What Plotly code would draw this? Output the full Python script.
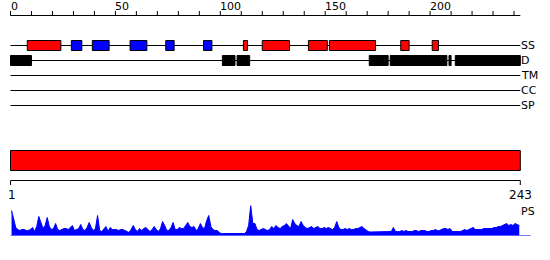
import plotly.graph_objects as go

# ---------------- data ----------------
seq_len = 243
ruler_labels = [0, 50, 100, 150, 200]

# secondary structure elements (start, end, type)  H = helix (red), E = strand (blue)
ss_start = [8, 29, 39, 57, 74, 92, 111, 120, 142, 152, 186, 201]
ss_end   = [24, 34, 47, 65, 78, 96, 113, 133, 151, 174, 190, 204]
ss_type  = ["H", "E", "E", "E", "E", "E", "H", "H", "H", "H", "H", "H"]

# disordered regions
d_start = [0, 101, 108, 171, 181, 209, 212]
d_end   = [10, 107, 114, 180, 208, 210, 243]

track_names = ["SS", "D", "TM", "CC", "SP"]

# per-residue PS score (residues 1..243)
ps_score = [
    25, 15, 8, 6, 5, 6, 6, 5, 5, 6,          # 1-10
    8, 4, 9, 19, 12, 7, 10, 18, 9, 6,        # 11-20
    7, 12, 6, 5, 6, 7, 7, 6, 8, 10,          # 21-30
    5, 6, 7, 11, 6, 5, 8, 13, 8, 5,          # 31-40
    7, 20, 5, 4, 6, 9, 4, 8, 6, 6,           # 41-50
    6, 5, 6, 6, 5, 4, 3, 6, 10, 6,           # 51-60
    4, 7, 5, 7, 8, 6, 4, 6, 9, 6,            # 61-70
    4, 7, 14, 10, 5, 5, 8, 13, 6, 6,         # 71-80
    8, 7, 7, 10, 13, 9, 8, 9, 5, 7,          # 81-90
    12, 8, 7, 15, 20, 9, 6, 5, 5, 3,         # 91-100
    2, 2, 2, 2, 1.5, 2, 2, 1.5, 2, 2,        # 101-110
    2, 2, 4, 10, 30, 12, 12, 6, 5, 6,        # 111-120
    7, 6, 5, 6, 9, 7, 10, 8, 7, 9,           # 121-130
    10, 12, 9, 7, 16, 12, 10, 9, 14, 10,     # 131-140
    8, 7, 8, 9, 7, 8, 9, 7, 7, 8,            # 141-150
    7, 8, 7, 6, 8, 14, 8, 6, 6, 7,           # 151-160
    6, 7, 6, 6, 7, 7, 8, 9, 7, 5,            # 161-170
    4, 3.5, 3.5, 4, 3.5, 3.5, 4, 3.5, 3.5, 4, # 171-180
    3.5, 4, 8, 4, 4, 4, 5, 4, 5, 4,          # 181-190
    4, 4, 5, 5, 4, 5, 5, 5, 4, 4,            # 191-200
    5, 5, 6, 5, 5, 6, 7, 7, 6, 7,            # 201-210
    4, 4, 4, 4, 4, 5, 6, 5, 6, 7,            # 211-220
    8, 6, 6, 6, 6, 7, 7, 7, 7, 7,            # 221-230
    8, 8, 9, 9, 10, 11, 12, 10, 11, 10,      # 231-240
    12, 11, 10,                               # 241-243
]
assert len(ps_score) == seq_len

# ---------------- layout constants (pixel rows) ----------------
W, H = 550, 260
X0_PX, PX_PER_RES = 10.5, 2.098
RULER_Y = 15.5
TRACK_Y = {"SS": 45.5, "D": 60.5, "TM": 75.5, "CC": 90.5, "SP": 105.5}
BOX_HALF = 5.0
BAR_TOP, BAR_BOT = 150.5, 170.5
RULER2_Y = 180.5
PS_BASE_PX = 235.5
PS_MAX_PX = 30.0
FONT = dict(family="DejaVu Sans", size=11, color="black")

colors = {"H": "#ff0000", "E": "#0000ff"}

fig = go.Figure()
shapes = []
annotations = []

# top ruler (as a trace on the primary axes)
rx, ry = [0, seq_len, None], [RULER_Y, RULER_Y, None]
for t in range(0, seq_len, 10):
    rx += [t, t, None]
    ry += [RULER_Y - 4.5, RULER_Y, None]
fig.add_trace(go.Scatter(x=rx, y=ry, mode="lines", xaxis="x", yaxis="y",
                         line=dict(color="black", width=1), hoverinfo="skip"))
for lab in ruler_labels:
    annotations.append(dict(x=lab, y=6, xref="x", yref="y", text=str(lab),
                            showarrow=False, xanchor="left", yanchor="middle",
                            xshift=-2, font=FONT))

# track lines and labels
for name in track_names:
    y = TRACK_Y[name]
    shapes.append(dict(type="line", xref="x", yref="y", x0=0, x1=seq_len,
                       y0=y, y1=y, line=dict(color="black", width=1)))
    annotations.append(dict(x=seq_len, y=y, xref="x", yref="y", text=name,
                            showarrow=False, xanchor="left", yanchor="middle",
                            xshift=-1, font=FONT))

# SS boxes
for s, e, t in zip(ss_start, ss_end, ss_type):
    y = TRACK_Y["SS"]
    shapes.append(dict(type="rect", xref="x", yref="y", x0=s, x1=e,
                       y0=y - BOX_HALF, y1=y + BOX_HALF,
                       fillcolor=colors[t], line=dict(color="black", width=1)))

# disorder boxes
for s, e in zip(d_start, d_end):
    y = TRACK_Y["D"]
    shapes.append(dict(type="rect", xref="x", yref="y", x0=s, x1=e,
                       y0=y - BOX_HALF, y1=y + BOX_HALF,
                       fillcolor="black", line=dict(color="black", width=1)))

# full-length red bar
shapes.append(dict(type="rect", xref="x", yref="y", x0=0, x1=seq_len,
                   y0=BAR_TOP, y1=BAR_BOT,
                   fillcolor="#ff0000", line=dict(color="black", width=1)))

# bottom ruler
shapes.append(dict(type="line", xref="x", yref="y", x0=0, x1=seq_len,
                   y0=RULER2_Y, y1=RULER2_Y, line=dict(color="black", width=1)))
for t in (0, seq_len):
    shapes.append(dict(type="line", xref="x", yref="y", x0=t, x1=t,
                       y0=RULER2_Y, y1=RULER2_Y + 4.5,
                       line=dict(color="black", width=1)))
annotations.append(dict(x=0, y=195, xref="x", yref="y", text="1",
                        showarrow=False, xanchor="center", yanchor="middle",
                        xshift=1, font=dict(FONT, size=12)))
annotations.append(dict(x=seq_len, y=195, xref="x", yref="y", text=str(seq_len),
                        showarrow=False, xanchor="center", yanchor="middle",
                        font=dict(FONT, size=12)))

# PS profile
ps_x = [i - 0.5 for i in range(1, seq_len + 1)]
fig.add_trace(go.Scatter(x=ps_x, y=ps_score, mode="lines", xaxis="x", yaxis="y2",
                         line=dict(color="#0000ff", width=1),
                         fill="tozeroy", fillcolor="#0000ff",
                         hoverinfo="skip"))
shapes.append(dict(type="line", xref="x", yref="y2", x0=0, x1=seq_len + 5,
                   y0=0, y1=0, line=dict(color="#0000ff", width=1)))
annotations.append(dict(x=seq_len, y=211, xref="x", yref="y", text="PS",
                        showarrow=False, xanchor="left", yanchor="middle",
                        xshift=-1, font=FONT))

xmin = -X0_PX / PX_PER_RES
xmax = (W - X0_PX) / PX_PER_RES
y2_bottom = (H - PS_BASE_PX) / H
y2_top = y2_bottom + PS_MAX_PX / H

fig.update_layout(
    width=W, height=H,
    margin=dict(l=0, r=0, t=0, b=0),
    paper_bgcolor="white", plot_bgcolor="rgba(0,0,0,0)",
    showlegend=False,
    xaxis=dict(range=[xmin, xmax], visible=False, fixedrange=True,
               anchor="y", domain=[0, 1]),
    yaxis=dict(range=[H, 0], autorange=False, visible=False, domain=[0, 1],
               anchor="x", fixedrange=True),
    yaxis2=dict(range=[0, PS_MAX_PX], autorange=False, visible=False,
                domain=[y2_bottom, y2_top], anchor="x", fixedrange=True),
    shapes=shapes,
    annotations=annotations,
)

fig.write_html("out.html", config={"displayModeBar": False})
